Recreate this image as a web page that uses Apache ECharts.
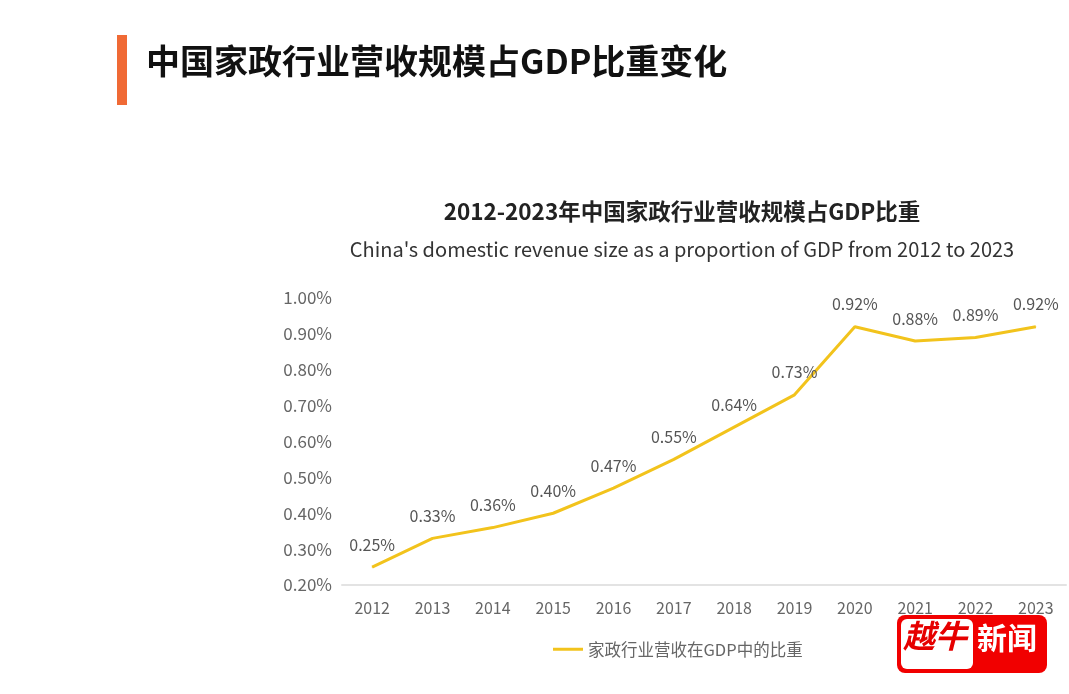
<!DOCTYPE html>
<html><head><meta charset="utf-8">
<script src="https://cdn.jsdelivr.net/npm/echarts@6/dist/echarts.min.js"></script>
<style>html,body{margin:0;padding:0;background:#fff;}#c{width:1069px;height:694px;}</style>
</head><body><div id="c"></div>
<script>
var years = ['2012','2013','2014','2015','2016','2017','2018','2019','2020','2021','2022','2023'];
var shares = [0.25,0.33,0.36,0.40,0.47,0.55,0.64,0.73,0.92,0.88,0.89,0.92];
var seriesName = '家政行业营收在GDP中的比重';
var pageTitle = '中国家政行业营收规模占GDP比重变化';
var chartTitle = '2012-2023年中国家政行业营收规模占GDP比重';
var chartSubtitle = "China's domestic revenue size as a proportion of GDP from 2012 to 2023";

var font = '"Noto Sans CJK SC","Noto Sans",sans-serif';
var chart = echarts.init(document.getElementById('c'));
chart.setOption({
  backgroundColor:'#fff',
  textStyle:{fontFamily:font},
  title:[
    {text:chartTitle,left:677,top:195,textAlign:'center',textStyle:{fontSize:22.5,fontWeight:'bold',color:'#222',fontFamily:font}},
    {text:chartSubtitle,left:677,top:234,textAlign:'center',textStyle:{fontSize:20,fontWeight:'normal',color:'#333',fontFamily:font}}
  ],
  grid:{left:342,right:3,top:298,bottom:109,containLabel:false},
  legend:{data:[seriesName],left:548,top:636,itemWidth:30,itemHeight:3,icon:'rect',itemGap:8,
    textStyle:{fontSize:16.5,color:'#666',fontFamily:font}},
  xAxis:{type:'category',data:years,boundaryGap:true,
    axisLine:{lineStyle:{color:'#e3e3e3',width:2}},axisTick:{show:false},
    axisLabel:{color:'#666',fontSize:16,margin:15,fontFamily:font}},
  yAxis:{type:'value',min:0.2,max:1.0,interval:0.1,
    axisLine:{show:false},axisTick:{show:false},splitLine:{show:false},
    axisLabel:{color:'#666',fontSize:17,margin:10,fontFamily:font,
      formatter:function(v){return v.toFixed(2)+'%';}}},
  series:[{name:seriesName,type:'line',data:shares,symbol:'circle',symbolSize:1,showSymbol:true,
    lineStyle:{color:'#F2C31C',width:3},itemStyle:{color:'#F2C31C'},
    label:{show:true,position:'top',distance:14,color:'#555',fontSize:16,fontFamily:font,
      formatter:function(p){return p.value.toFixed(2)+'%';}}}],
  graphic:[
    {type:'rect',shape:{x:117,y:35,width:10,height:70},style:{fill:'#F06A35'}},
    {type:'text',left:146,top:44,style:{text:pageTitle,font:'bold 34px '+font,fill:'#111'}},
    {type:'rect',shape:{x:897,y:615,width:150,height:58,r:8},style:{fill:'#F10000'}},
    {type:'rect',shape:{x:901,y:619,width:72,height:50,r:6},style:{fill:'#fff'}},
    {type:'text',left:903,top:620,style:{text:'越牛',font:'italic bold 32px '+font,fill:'#E60000'}},
    {type:'text',left:977,top:623,style:{text:'新闻',font:'bold 30px '+font,fill:'#fff'}}
  ]
});
</script></body></html>
